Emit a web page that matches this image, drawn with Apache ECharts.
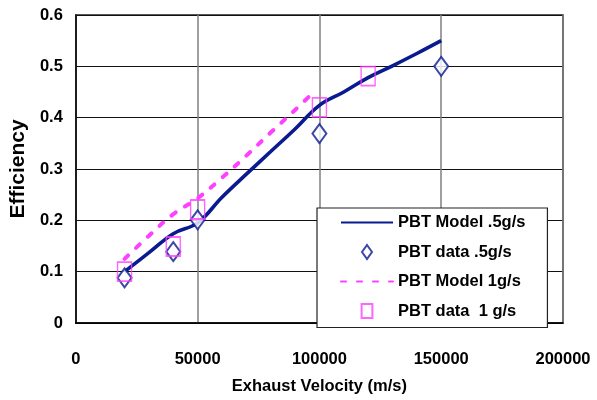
<!DOCTYPE html>
<html>
<head>
<meta charset="utf-8">
<script src="https://cdn.jsdelivr.net/npm/echarts@6/dist/echarts.min.js"></script>
<style>
  html, body { margin: 0; padding: 0; background: #fff; }
  #chart { width: 597px; height: 400px; }
</style>
</head>
<body>
<div id="chart"></div>
<script>
// PBT efficiency vs exhaust velocity
var velModel05 = [20000, 30000, 40000, 50000, 60000, 70000, 80000, 90000, 100000, 110000, 120000, 130000, 140000, 150000];
var effModel05 = [0.100, 0.137, 0.174, 0.195, 0.245, 0.290, 0.334, 0.378, 0.424, 0.450, 0.478, 0.501, 0.525, 0.550];

var velData05 = [20000, 40000, 50000, 100000, 150000];
var effData05 = [0.088, 0.139, 0.201, 0.369, 0.500];

var velModel1 = [20000, 30000, 40000, 50000, 60000, 70000, 80000, 90000, 97000];
var effModel1 = [0.125, 0.170, 0.212, 0.243, 0.283, 0.326, 0.371, 0.415, 0.447];

var velData1 = [20000, 40000, 50000, 100000, 120000];
var effData1 = [0.100, 0.149, 0.221, 0.420, 0.481];

var seriesNames = ['PBT Model .5g/s', 'PBT data .5g/s', 'PBT Model 1g/s', 'PBT data  1 g/s'];

var navy = '#0A1A8F';
var pink = '#FF40FF';
var fnt = "'Liberation Sans', Arial, sans-serif";

function pairs(xs, ys) {
  return xs.map(function (x, i) { return [x, ys[i]]; });
}

var hideDot = { color: 'rgba(0,0,0,0)', borderColor: 'rgba(0,0,0,0)', borderWidth: 0 };

var chart = echarts.init(document.getElementById('chart'));

var option = {
  animation: false,
  grid: {
    left: 72, right: 34, top: 15, bottom: 71,
    show: true, borderColor: '#222', borderWidth: 1.5
  },
  xAxis: {
    type: 'value',
    min: 0, max: 200000, interval: 50000,
    name: 'Exhaust Velocity (m/s)',
    nameLocation: 'middle', nameGap: 55,
    nameTextStyle: { fontFamily: fnt, fontWeight: 'bold', fontSize: 16.5, color: '#000' },
    axisLine: { lineStyle: { color: '#000', width: 1.5 } },
    axisTick: { show: false },
    axisLabel: {
      margin: 28, fontFamily: fnt, fontWeight: 'bold', fontSize: 16.5, color: '#000',
      formatter: function (v) { return String(v); }
    },
    splitLine: { lineStyle: { color: '#7f7f7f', width: 1.5 } }
  },
  yAxis: {
    type: 'value',
    min: 0, max: 0.6, interval: 0.1,
    name: 'Efficiency',
    nameLocation: 'middle', nameGap: 43,
    nameTextStyle: { fontFamily: fnt, fontWeight: 'bold', fontSize: 21, color: '#000' },
    axisLine: { show: true, lineStyle: { color: '#000', width: 1.5 } },
    axisTick: { show: false },
    axisLabel: { margin: 13, fontFamily: fnt, fontWeight: 'bold', fontSize: 16.5, color: '#000' },
    splitLine: { lineStyle: { color: '#111', width: 1.2 } }
  },
  legend: {
    orient: 'vertical',
    left: 317, top: 208,
    padding: [6, 22, 8, 23],
    itemWidth: 52, itemHeight: 14, itemGap: 12.5,
    backgroundColor: '#fff',
    borderColor: '#222', borderWidth: 1.2,
    textStyle: { fontFamily: fnt, fontWeight: 'bold', fontSize: 16.5, color: '#000' },
    data: [
      { name: seriesNames[0], itemStyle: hideDot },
      { name: seriesNames[1], icon: 'path://M5,0 L10,7 L5,14 L0,7 Z' },
      { name: seriesNames[2], itemStyle: hideDot },
      { name: seriesNames[3], icon: 'path://M0,0 L10,0 L10,13 L0,13 Z' }
    ]
  },
  series: [
    {
      name: seriesNames[0],
      type: 'line',
      data: pairs(velModel05, effModel05),
      smooth: 0.4,
      symbol: 'none',
      lineStyle: { color: navy, width: 3.6 },
      itemStyle: { color: navy },
      z: 2
    },
    {
      name: seriesNames[1],
      type: 'scatter',
      data: pairs(velData05, effData05),
      symbol: 'diamond',
      symbolSize: [14, 19],
      itemStyle: { color: '#fff', borderColor: navy, borderWidth: 2 },
      z: 3
    },
    {
      name: seriesNames[2],
      type: 'line',
      data: pairs(velModel1, effModel1),
      smooth: 0.4,
      symbol: 'none',
      lineStyle: { color: pink, width: 4, type: [5, 11], cap: 'round' },
      itemStyle: { color: pink },
      z: 2
    },
    {
      name: seriesNames[3],
      type: 'scatter',
      data: pairs(velData1, effData1),
      symbol: 'rect',
      symbolSize: [14, 19],
      itemStyle: { color: 'rgba(255,255,255,0)', borderColor: pink, borderWidth: 1.6 },
      z: 4
    }
  ]
};

chart.setOption(option);
</script>
</body>
</html>
